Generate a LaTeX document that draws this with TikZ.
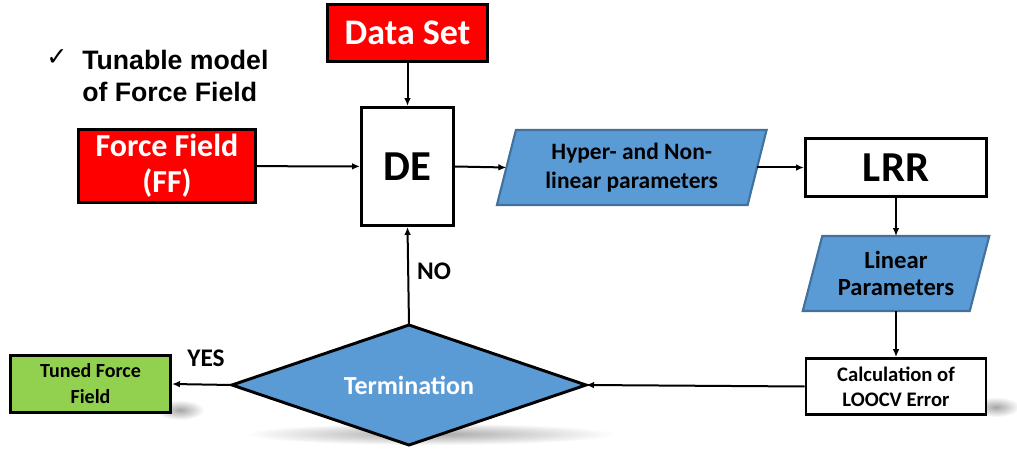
\documentclass[tikz,border=0pt]{standalone}
\usepackage{fontspec}
\setmainfont{Carlito}
\newfontfamily\arialfont{Liberation Sans}
\newfontfamily\symfont{DejaVu Sans}
\usetikzlibrary{arrows.meta,calc}
\definecolor{ppred}{HTML}{FF0000}
\definecolor{ppblue}{HTML}{5B9BD5}
\definecolor{ppblueline}{HTML}{41719C}
\definecolor{ppgreen}{HTML}{92D050}
\newcommand{\fs}[2]{\fontsize{#1}{#2}\selectfont}
\tikzset{
  box/.style={draw=black, line width=2.2pt, align=center, inner sep=0pt, font=\bfseries},
  redbox/.style={box, fill=ppred, text=white},
  whitebox/.style={box, fill=white},
  greenbox/.style={box, fill=ppgreen},
  ghost/.style={inner sep=0pt, outer sep=0pt, align=center, font=\bfseries},
  para/.style={fill=ppblue, draw=ppblueline, line width=1.6pt, line join=miter},
  dia/.style={fill=ppblue, draw=black, line width=2.2pt, line join=miter},
  flow/.style={-{Latex[length=6pt,width=5pt]}, line width=1.5pt},
  lbl/.style={font=\bfseries\fs{19}{22}, inner sep=0pt},
  softshadow/.style={inner color=black!35, outer color=white},
}
\begin{document}
\begin{tikzpicture}[x=0.75pt,y=-0.75pt]
\fill[white] (0,0) rectangle (1017,456);
\useasboundingbox (0,0) rectangle (1017,456);
% soft shadows
\shade[softshadow] (430,434) ellipse (185 and 11);
\shade[softshadow] (180,410) ellipse (24 and 10);
\shade[softshadow] (996,407) ellipse (24 and 10);
% heading
\node[font=\symfont\fs{19}{19}, inner sep=0pt] (chk) at (57,58) {✓};
\node[anchor=north west, align=left, inner sep=0pt, font=\arialfont\bfseries\fs{20}{24}] (tun) at (82,50) {Tunable model\\of Force Field};
% boxes
\node[redbox, minimum width=120pt, minimum height=42.75pt, font=\bfseries\fs{27}{30}] (ds) at (407.5,33) {Data Set};
\node[redbox, minimum width=132.75pt, minimum height=54.75pt, font=\bfseries\fs{24}{27}] (ff) at (167,166) {Force Field\\(FF)};
\node[whitebox, minimum width=69pt, minimum height=88.5pt, font=\bfseries\fs{32}{36}] (de) at (407.5,166.5) {DE};
\node[whitebox, minimum width=135.75pt, minimum height=43.5pt, font=\bfseries\fs{32}{36}] (lrr) at (896,167.5) {LRR};
\node[whitebox, line width=2pt, minimum width=135pt, minimum height=42pt, font=\bfseries\fs{15.5}{19}] (calc) at (896,386.5) {Calculation of\\LOOCV Error};
\node[greenbox, minimum width=120pt, minimum height=42.75pt, font=\bfseries\fs{15}{19.5}] (tuned) at (90.5,384) {Tuned Force\\Field};
% parallelograms
\node[ghost, minimum width=188pt, minimum height=56.25pt] (hyp) at (631.75,167.5) {};
\draw[para] ($(hyp.north west)+(9.5,0)$) -- ($(hyp.north east)+(9.5,0)$) -- ($(hyp.south east)+(-9.5,0)$) -- ($(hyp.south west)+(-9.5,0)$) -- cycle;
\node[ghost, font=\bfseries\fs{17.6}{22}] (hyptxt) at (hyp) {Hyper- and Non-\\linear parameters};
\node[ghost, minimum width=125.25pt, minimum height=56.25pt] (lin) at (896,273.5) {};
\draw[para] ($(lin.north west)+(9.75,0)$) -- ($(lin.north east)+(9.75,0)$) -- ($(lin.south east)+(-9.75,0)$) -- ($(lin.south west)+(-9.75,0)$) -- cycle;
\node[ghost, font=\bfseries\fs{18.5}{20.5}] (lintxt) at (lin) {Linear\\Parameters};
% decision
\node[ghost, minimum width=265.5pt, minimum height=90pt] (term) at (409,385) {};
\draw[dia] (term.north) -- (term.east) -- (term.south) -- (term.west) -- cycle;
\node[ghost, text=white, font=\bfseries\fs{19.5}{22}] (termtxt) at (term) {Termination};
% connectors
\draw[flow] (ds) -- (de);
\draw[flow] (ff) -- (de);
\draw[flow] (de.east) -- (hyp.west);
\draw[flow] (hyp.east) -- (lrr.west);
\draw[flow] (lrr) -- (lin.north);
\draw[flow] (lin.south) -- (calc);
\draw[flow] (calc.west) -- (term.east);
\draw[flow] (term.north) -- (de.south);
\draw[flow] (term.west) -- (tuned.east);
% labels
\node[lbl] (yes) at (206,358.5) {YES};
\node[lbl] (no) at (434,271) {NO};
\end{tikzpicture}
\end{document}
